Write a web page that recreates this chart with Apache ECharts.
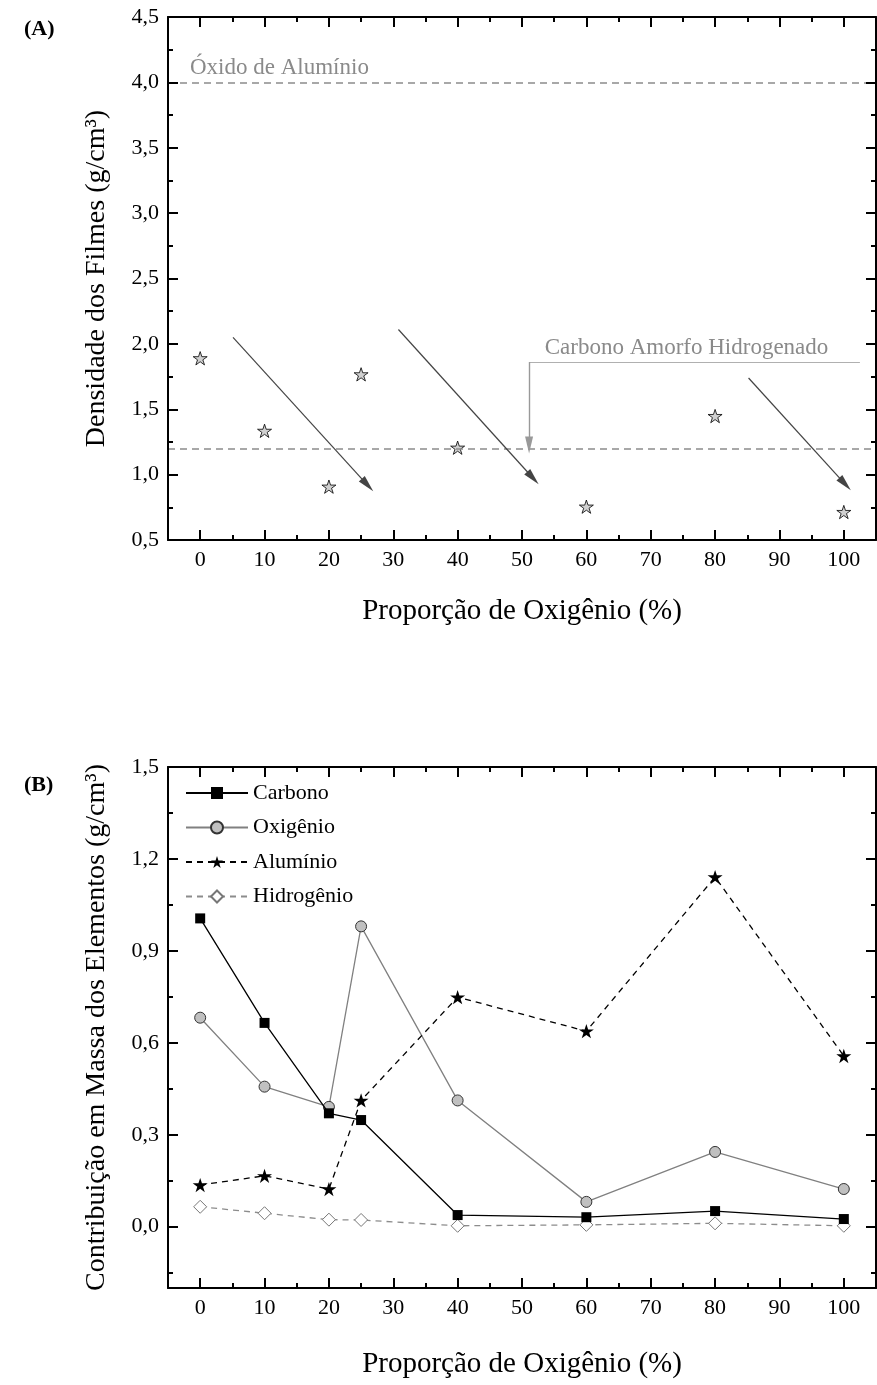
<!DOCTYPE html>
<html><head><meta charset="utf-8">
<script src="https://cdn.jsdelivr.net/npm/echarts@6/dist/echarts.min.js"></script>
<style>html,body{margin:0;padding:0;background:#fff}#c{width:877px;height:1385px}</style>
</head><body><div id="c"></div>
<script>
// ---------- data ----------
const xValues = [0, 10, 20, 25, 40, 60, 80, 100];
const densidade = [1.89, 1.335, 0.908, 1.767, 1.206, 0.755, 1.448, 0.714];
const carbono = [1.006, 0.665, 0.370, 0.348, 0.038, 0.031, 0.051, 0.025];
const oxigenio = [0.682, 0.457, 0.391, 0.980, 0.412, 0.081, 0.244, 0.123];
const aluminio = [0.136, 0.166, 0.123, 0.412, 0.749, 0.638, 1.141, 0.557];
const hidrogenio = [0.065, 0.044, 0.023, 0.022, 0.003, 0.006, 0.011, 0.003];

const xTicks = [0, 10, 20, 30, 40, 50, 60, 70, 80, 90, 100];
const xMinorTicks = [5, 15, 25, 35, 45, 55, 65, 75, 85, 95];
const yTicksA = [0.5, 1.0, 1.5, 2.0, 2.5, 3.0, 3.5, 4.0, 4.5];
const yMinorTicksA = [0.75, 1.25, 1.75, 2.25, 2.75, 3.25, 3.75, 4.25];
const yTicksB = [0, 0.3, 0.6, 0.9, 1.2, 1.5];
const yMinorTicksB = [-0.15, 0.15, 0.45, 0.75, 1.05, 1.35];

const refAluminio = 4.0;
const refCarbonoAmorfo = 1.2;
const trendArrows = [
  [[5.1, 2.05], [26.0, 0.92]],
  [[30.8, 2.11], [51.7, 0.974]],
  [[85.2, 1.739], [100.2, 0.928]]
];
const amorfoLine = [[51.1, 1.861], [102.5, 1.861]];
const amorfoArrow = [[51.1, 1.861], [51.1, 1.227]];

// ---------- styling helpers ----------
const FONT = '"Liberation Serif","Times New Roman",serif';
const STAR = 'path://M100,0L122.45,69.1L195.1,69.1L136.3,111.8L158.8,180.9L100,138.2L41.2,180.9L63.7,111.8L4.9,69.1L77.55,69.1Z';
const fmt = v => v.toFixed(1).replace('.', ',');

function axisSet(dim, gi, min, max, major, minor, opts) {
  const posMain = dim === 'x' ? 'bottom' : 'left';
  const posMirror = dim === 'x' ? 'top' : 'right';
  const line = { show: true, onZero: false, lineStyle: { color: '#000', width: 2 } };
  const base = { gridIndex: gi, type: 'value', min: min, max: max, splitLine: { show: false }, z: 5 };
  const tick = (vals, len) => ({ show: true, inside: true, length: len, customValues: vals, lineStyle: { color: '#000', width: 2 } });
  return [
    Object.assign({}, base, {
      position: posMain, axisLine: line, axisTick: tick(major, 10),
      axisLabel: { show: true, customValues: major, fontSize: 22, fontFamily: FONT, color: '#000', margin: opts.margin,
        formatter: opts.fmt },
      name: opts.name, nameLocation: 'middle', nameGap: opts.nameGap,
      nameTextStyle: { fontSize: opts.nameSize, fontFamily: FONT, color: '#000' }
    }),
    Object.assign({}, base, { position: posMain, axisLine: { show: false, onZero: false }, axisTick: tick(minor, 5), axisLabel: { show: false } }),
    Object.assign({}, base, { position: posMirror, axisLine: line, axisTick: tick(major, 10), axisLabel: { show: false } }),
    Object.assign({}, base, { position: posMirror, axisLine: { show: false, onZero: false }, axisTick: tick(minor, 5), axisLabel: { show: false } })
  ];
}

const xA = axisSet('x', 0, -5, 105, xTicks, xMinorTicks, { margin: 9, fmt: v => String(v), name: 'Proporção de Oxigênio (%)', nameGap: 57, nameSize: 29 });
const yA = axisSet('y', 0, 0.5, 4.5, yTicksA, yMinorTicksA, { margin: 9, fmt: fmt, name: 'Densidade dos Filmes (g/cm³)', nameGap: 57, nameSize: 28 });
const xB = axisSet('x', 1, -5, 105, xTicks, xMinorTicks, { margin: 9, fmt: v => String(v), name: 'Proporção de Oxigênio (%)', nameGap: 62, nameSize: 29 });
const yB = axisSet('y', 1, -0.2, 1.5, yTicksB, yMinorTicksB, { margin: 9, fmt: fmt, name: 'Contribuição em Massa dos Elementos (g/cm³)', nameGap: 57, nameSize: 28 });

const pts = arr => xValues.map((x, i) => [x, arr[i]]);

const darkArrow = { color: '#444', width: 1.2, type: 'solid' };
const arrowLines = trendArrows.map(a => [
  { coord: a[0], symbol: 'none', lineStyle: darkArrow },
  { coord: a[1], symbol: 'triangle', symbolSize: [8, 17], lineStyle: darkArrow }
]);
const grayLine = { color: '#b0b0b0', width: 1.2, type: 'solid' };
const grayArrow = { color: '#999', width: 1.4, type: 'solid' };
const amorfoLabel = { show: true, position: 'middle', formatter: 'Carbono Amorfo Hidrogenado', fontSize: 23, fontFamily: FONT, color: '#8a8a8a', distance: 3, offset: [-8, 0] };

const option = {
  backgroundColor: '#fff',
  animation: false,
  title: [
    { text: '(A)', left: 19, top: 13, textStyle: { fontSize: 22, fontWeight: 'bold', fontFamily: FONT, color: '#000' } },
    { text: '(B)', left: 19, top: 769, textStyle: { fontSize: 22, fontWeight: 'bold', fontFamily: FONT, color: '#000' } }
  ],
  grid: [
    { left: 168, top: 17, right: 1, height: 523 },
    { left: 168, top: 767, right: 1, height: 521 }
  ],
  xAxis: xA.concat(xB),
  yAxis: yA.concat(yB),
  legend: {
    left: 185, top: 782, padding: 0, orient: 'vertical', itemWidth: 62, itemHeight: 15, itemGap: 12.5,
    textStyle: { fontSize: 22, fontFamily: FONT, color: '#000', lineHeight: 22 },
    data: ['Carbono', 'Oxigênio', 'Alumínio', 'Hidrogênio']
  },
  series: [
    {
      type: 'scatter', xAxisIndex: 0, yAxisIndex: 0, data: pts(densidade),
      symbol: STAR, symbolSize: 14, symbolKeepAspect: true,
      itemStyle: { color: '#c4c4c4', borderColor: '#000', borderWidth: 1 },
      markLine: {
        silent: true, animation: false, symbol: ['none', 'none'],
        label: { show: false },
        data: [
          { yAxis: refAluminio, lineStyle: { color: '#8c8c8c', width: 1.5, type: [7, 5] },
            label: { show: true, position: 'insideStartTop', formatter: 'Óxido de Alumínio', fontSize: 23, fontFamily: FONT, color: '#8a8a8a', distance: [22, 3] } },
          { yAxis: refCarbonoAmorfo, lineStyle: { color: '#8c8c8c', width: 1.5, type: [7, 5] } },
          [
            { coord: amorfoLine[0], symbol: 'none', lineStyle: grayLine, label: amorfoLabel },
            { coord: amorfoLine[1], symbol: 'none', lineStyle: grayLine, label: amorfoLabel }
          ],
          [
            { coord: amorfoArrow[0], symbol: 'none', lineStyle: grayArrow },
            { coord: amorfoArrow[1], symbol: 'triangle', symbolSize: [8, 17], lineStyle: grayArrow }
          ]
        ].concat(arrowLines)
      }
    },
    {
      name: 'Carbono', type: 'line', xAxisIndex: 4, yAxisIndex: 4, data: pts(carbono),
      symbol: 'rect', symbolSize: 10, z: 4,
      lineStyle: { color: '#000', width: 1.3, type: 'solid' },
      itemStyle: { color: '#000', borderColor: '#000', borderWidth: 0 }
    },
    {
      name: 'Oxigênio', type: 'line', xAxisIndex: 4, yAxisIndex: 4, data: pts(oxigenio),
      symbol: 'circle', symbolSize: 11, z: 3,
      lineStyle: { color: '#808080', width: 1.3, type: 'solid' },
      itemStyle: { color: '#c0c0c0', borderColor: '#333', borderWidth: 1 }
    },
    {
      name: 'Alumínio', type: 'line', xAxisIndex: 4, yAxisIndex: 4, data: pts(aluminio),
      symbol: STAR, symbolSize: 15, symbolKeepAspect: true, z: 3,
      lineStyle: { color: '#000', width: 1.3, type: [6, 5] },
      itemStyle: { color: '#000', borderColor: '#000', borderWidth: 0 }
    },
    {
      name: 'Hidrogênio', type: 'line', xAxisIndex: 4, yAxisIndex: 4, data: pts(hidrogenio),
      symbol: 'diamond', symbolSize: 13, z: 2,
      lineStyle: { color: '#8c8c8c', width: 1.3, type: [6, 5] },
      itemStyle: { color: '#fff', borderColor: '#777', borderWidth: 1 }
    }
  ]
};

const chart = echarts.init(document.getElementById('c'), null, { renderer: 'canvas' });
chart.setOption(option);
</script>
</body></html>
